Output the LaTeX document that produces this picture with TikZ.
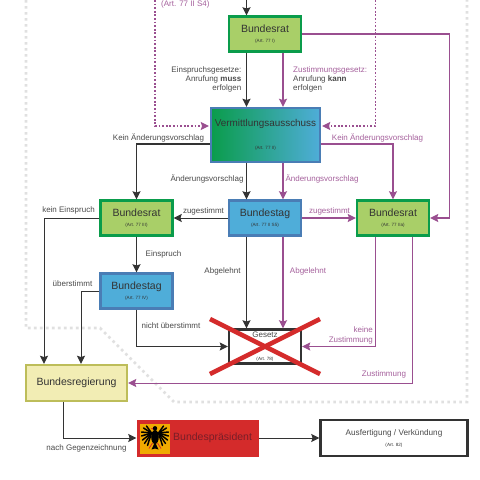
\documentclass[tikz,border=0pt]{standalone}
\usepackage{fontspec}
\setmainfont{Liberation Sans}
\usetikzlibrary{arrows.meta,calc}
\definecolor{ink}{HTML}{333333}
\definecolor{lab}{HTML}{4A4A4A}
\definecolor{pur}{HTML}{9A4F90}
\definecolor{purl}{HTML}{A5609C}
\definecolor{grn}{HTML}{0A9C4B}
\definecolor{grnf}{HTML}{A9CF68}
\definecolor{blu}{HTML}{4A7DB5}
\definecolor{bluf}{HTML}{4FADD9}
\definecolor{dots}{HTML}{E0E0E0}
\definecolor{regd}{HTML}{BDBD5A}
\definecolor{regf}{HTML}{F2EDB4}
\definecolor{rotf}{HTML}{D42B2B}
\definecolor{rott}{HTML}{781E28}
\definecolor{gold}{HTML}{F0AA00}
\newcommand{\nm}{\fontsize{10.5}{12}\selectfont}
\newcommand{\ar}{\fontsize{4.6}{6}\selectfont}
\newcommand{\lb}{\fontsize{8}{9.2}\selectfont}
\tikzset{
  x=1pt,y=-1pt,
  tip/.style={-{Stealth[length=8pt,width=8pt,inset=1.2pt]}},
  blk/.style={draw=ink,tip,line width=1.8pt},
  blkt/.style={draw=ink,tip,line width=1pt},
  prp/.style={draw=pur,tip,line width=1.8pt},
  prpt/.style={draw=pur,tip,line width=1.2pt},
  prpd/.style={draw=pur,tip,line width=1.1pt,dash pattern=on 1.8pt off 1.8pt},
  box/.style={minimum width=72pt,minimum height=35pt,inner sep=0pt,align=center,text=ink,line width=2.4pt},
  rat/.style={box,draw=grn,fill=grnf},
  tag/.style={box,draw=blu,fill=bluf},
  lbk/.style={font=\lb,text=lab,inner sep=0pt,align=center},
  lpr/.style={font=\lb,text=purl,inner sep=0pt,align=center},
}
\begin{document}
\begin{tikzpicture}
\useasboundingbox (0,0) rectangle (480,480);
\fill[white] (0,0) rectangle (480,480);
% dotted region
\draw[dots,line width=2.6pt,dash pattern=on 2.6pt off 3.4pt]
  (26,0) -- (26,328) -- (100,328) -- (174,402) -- (467,402) -- (467,0);
% nodes
\node[rat] (brT) at (265,34) {\nm Bundesrat\\[-2.5pt]\ar (Art. 77 I)};
\node[box,draw=blu,left color=grn,right color=bluf,minimum width=109pt,minimum height=54pt] (va) at (265.5,135)
  {\fontsize{9.9}{12}\selectfont Vermittlungsausschuss\\[10.5pt]\ar (Art. 77 II)};
\node[rat] (brL) at (136.5,218) {\nm Bundesrat\\[-2.5pt]\ar (Art. 77 III)};
\node[tag] (btM) at (265,218) {\nm Bundestag\\[-2.5pt]\ar (Art. 77 II S5)};
\node[rat] (brR) at (393,218) {\nm Bundesrat\\[-2.5pt]\ar (Art. 77 IIa)};
\node[tag] (btL) at (136.5,291) {\nm Bundestag\\[-2.5pt]\ar (Art. 77 IV)};
\node[box,draw=ink,fill=white,minimum height=34pt] (ge) at (265,346.5)
  {\fontsize{8}{9}\selectfont\textcolor{lab}{Gesetz}\\[11pt]\ar (Art. 78)};
\node[box,draw=regd,fill=regf,minimum width=101pt,minimum height=36pt] (br) at (76.5,383) {\nm Bundesregierung};
\node[minimum width=122pt,minimum height=37pt,inner sep=0pt,fill=rotf] (bp) at (197.5,438) {};
\node[inner sep=0pt,text=rott,anchor=west] (bpt) at (173,437.5) {\nm Bundespräsident};
\node[box,draw=ink,fill=white,minimum width=147pt,minimum height=36pt] (au) at (394,438)
  {\fontsize{8.2}{9}\selectfont\textcolor{lab}{Ausfertigung / Verkündung}\\[-1pt]\ar (Art. 82)};
% eagle
\fill[gold] (140,424) rectangle (170,453.5);
\draw[rotf,line width=.8pt] (152.5,443) -- (149,448.5) (157.5,443) -- (161,448.5);
\foreach \a/\b in {146.5/426,143.5/428,141.5/432,141.5/436,142.5/440,144.5/443.5,147.5/445.5}{
  \draw[black,line width=1.5pt,line cap=round] (151.5,433) -- (\a,\b);
  \draw[black,line width=1.5pt,line cap=round] (158.5,433) -- ({310-\a},\b);
}
\fill[black] (155,437) ellipse [x radius=3.8,y radius=7];
\fill[black] (155,428.3) circle [radius=2.2];
\fill[black] (155,442) -- (151.5,449.5) -- (155,448.5) -- (158.5,449.5) -- cycle;
\fill[rotf] (152.8,428) -- (150.8,428.6) -- (152.8,429.4) -- cycle;
% top entry
\coordinate (topM) at (246.5,0);
\coordinate (dL) at (155,0);
\coordinate (dR) at (375.5,0);
\draw[blk] (topM) -- (brT.north -| topM);
\draw[prpd] (dL) -- ($(dL |- va.west)+(0,-9)$) -- ($(va.west)+(-1,-9)$);
\draw[prpd] (dR) -- ($(dR |- va.east)+(0,-9)$) -- ($(va.east)+(1,-9)$);
% verticals
\draw[blk] (brT.south -| topM) -- (va.north -| topM);
\coordinate (pM) at (283,0);
\draw[prp] (brT.south -| pM) -- (va.north -| pM);
\draw[blk] (va.south -| topM) -- (btM.north -| topM);
\draw[prp] (va.south -| pM) -- (btM.north -| pM);
\draw[blk,line width=1.5pt] (btM.south -| topM) -- (ge.north -| topM);
\draw[prp] (btM.south -| pM) -- (ge.north -| pM);
% sides
\draw[prpt] (brT.east) -| ($(brR.east)+(19.5,0)$) -- (brR.east);
\draw[blk,line width=1.5pt] ($(va.west)+(0,9)$) -| (brL.north);
\draw[prpt,line width=1.3pt] ($(va.east)+(0,9)$) -| (brR.north);
\draw[blkt] (btM.west) -- (brL.east);
\draw[prpt] (btM.east) -- (brR.west);
\draw[blkt] (brL.west) -| ($(br.north)+(-32.5,0)$);
\draw[blk] (brL.south) -- (btL.north);
\draw[blkt] (btL.west) -| ($(br.north)+(4.5,0)$);
\draw[blkt,line width=1.2pt] (btL.south) |- (ge.west);
\draw[prpt,line width=1pt] ($(brR.south)+(-17.5,0)$) |- (ge.east);
\draw[prpt,line width=1pt] ($(brR.south)+(19,0)$) |- (br.east);
\draw[blkt] ($(br.south)+(-13.5,0)$) |- (bp.west);
\draw[blkt] (bp.east) -- (au.west);
% red cross
\draw[rotf,line width=4.5pt] (210,319) -- (320,374);
\draw[rotf,line width=4.5pt] (210,374) -- (320,319);
% labels
\node[lpr,anchor=west] (l0) at (161,4) {(Art. 77 II S4)};
\node[lbk,anchor=north east,align=right] (l1) at (241.5,66.5) {Einspruchsgesetze:\\Anrufung \textbf{muss}\\erfolgen};
\node[lbk,anchor=north west,align=left] (l2) at (293,66.5) {\textcolor{purl}{Zustimmungsgesetz:}\\Anrufung \textbf{kann}\\erfolgen};
\node[lbk] (l3) at (158.5,138) {Kein Änderungsvorschlag};
\node[lpr] (l4) at (377.5,138) {Kein Änderungsvorschlag};
\node[lbk] (l5) at (207,179) {Änderungsvorschlag};
\node[lpr] (l6) at (322,179) {Änderungsvorschlag};
\node[lbk] (l7) at (203.5,211) {zugestimmt};
\node[lpr] (l8) at (329.5,211) {zugestimmt};
\node[lbk] (l9) at (68.5,210.5) {kein Einspruch};
\node[lbk] (l10) at (163.5,254) {Einspruch};
\node[lbk] (l11) at (72.5,283.5) {überstimmt};
\node[lbk] (l12) at (222.5,271) {Abgelehnt};
\node[lpr] (l13) at (308,271) {Abgelehnt};
\node[lbk] (l14) at (171,326) {nicht überstimmt};
\node[lpr,anchor=east,align=right] (l15) at (373,335.5) {keine\\Zustimmung};
\node[lpr] (l16) at (384,374) {Zustimmung};
\node[lbk] (l17) at (86.5,448) {nach Gegenzeichnung};
\end{tikzpicture}
\end{document}
